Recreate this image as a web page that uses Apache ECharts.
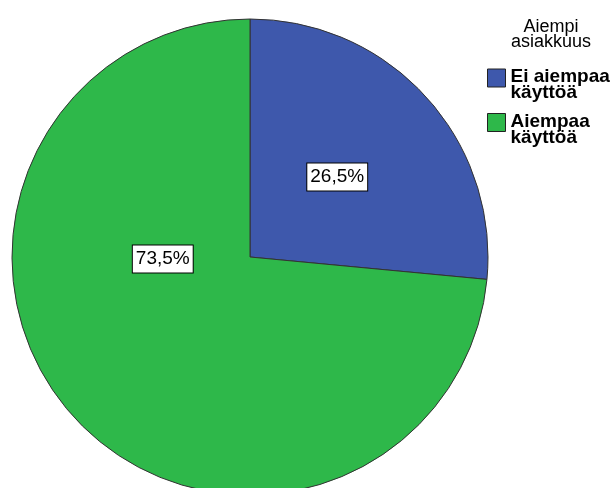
<!DOCTYPE html>
<html>
<head>
<meta charset="utf-8">
<script src="https://cdn.jsdelivr.net/npm/echarts@6/dist/echarts.min.js"></script>
<style>
  html, body { margin: 0; padding: 0; background: #fff; }
  #chart { width: 615px; height: 488px; }
</style>
</head>
<body>
<div id="chart"></div>
<script>
// osuudet prosentteina
const categories = ['Ei aiempaa\nkäyttöä', 'Aiempaa\nkäyttöä']
const values = [26.5, 73.5]
const colors = ['#3e58ac', '#2eb84a']
const legendTitle = 'Aiempi\nasiakkuus'

const chart = echarts.init(document.getElementById('chart'))

const option = {
  animation: false,
  backgroundColor: '#fff',
  title: {
    text: legendTitle,
    left: 551,
    top: 20,
    padding: 0,
    textAlign: 'center',
    textStyle: {
      fontFamily: 'Liberation Sans',
      fontSize: 18,
      fontWeight: 'normal',
      color: '#000',
      lineHeight: 15,
    },
  },
  legend: {
    orient: 'vertical',
    left: 487,
    top: 57,
    padding: 0,
    itemWidth: 18,
    itemHeight: 18,
    itemGap: -1,
    icon: 'rect',
    selectedMode: false,
    // tyhjä ensimmäinen rivi siirtää tekstiä alaspäin, jolloin se alkaa ruudun yläreunasta
    formatter: (name) => '{s| }\n' + name.split('\n').map((t) => '{a|' + t + '}').join('\n'),
    textStyle: {
      color: '#000',
      rich: {
        s: { fontSize: 10, lineHeight: 14 },
        a: {
          fontFamily: 'Liberation Sans',
          fontSize: 19,
          fontWeight: 'bold',
          color: '#000',
          lineHeight: 16,
        },
      },
    },
    itemStyle: { borderColor: '#222', borderWidth: 1 },
  },
  series: [
    {
      type: 'pie',
      center: [250, 257],
      radius: 238,
      startAngle: 90,
      clockwise: true,
      silent: true,
      itemStyle: { borderColor: '#333', borderWidth: 1 },
      label: {
        position: 'inside',
        formatter: (p) => p.value.toFixed(1).replace('.', ',') + '%',
        fontFamily: 'Liberation Sans',
        fontSize: 19,
        color: '#000',
        backgroundColor: '#fff',
        borderColor: '#000',
        borderWidth: 1,
        padding: [5, 3, 3, 3],
      },
      labelLine: { show: false },
      data: categories.map((name, i) => ({
        name,
        value: values[i],
        itemStyle: { color: colors[i] },
        // SPSS sijoittaa suuremman osuuden tekstin vasemmalle keskelle
        label: i === 1 ? { offset: [3, -80] } : { offset: [-3, 2] },
      })),
    },
  ],
}

chart.setOption(option)
</script>
</body>
</html>
